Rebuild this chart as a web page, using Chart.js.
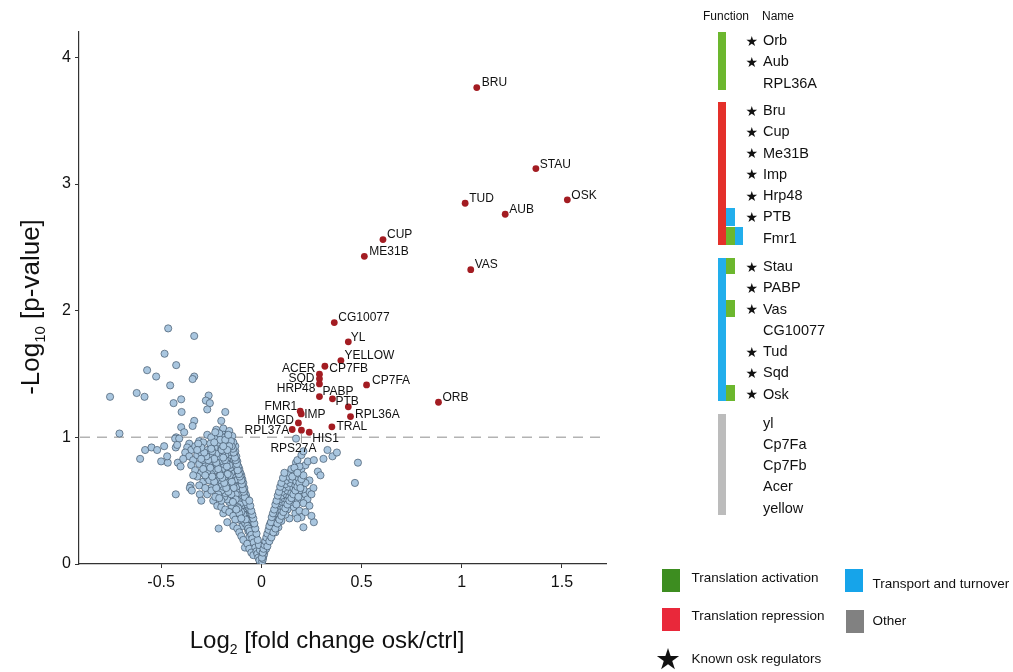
<!DOCTYPE html>
<html><head><meta charset="utf-8">
<script src="https://cdn.jsdelivr.net/npm/chart.js@4.4.1/dist/chart.umd.min.js"></script>
<style>
html,body{margin:0;padding:0;background:#fff;}
#wrap{position:relative;width:1013px;height:672px;overflow:hidden;font-family:"Liberation Sans",Arial,Helvetica,sans-serif;}
canvas{position:absolute;left:0;top:0;}
.t{position:absolute;white-space:nowrap;color:#111;line-height:1;transform:translateY(-50%);}
.star{font-family:"DejaVu Sans",sans-serif;}
.r{position:absolute;}
</style></head><body><div id="wrap"><canvas id="c" width="1013" height="672"></canvas></div>
<script>
// ---------- data ----------
const xTicks = [-0.5, 0, 0.5, 1, 1.5];
const yTicks = [0, 1, 2, 3, 4];
const threshold = 1;
const hitNames = ['BRU','STAU','OSK','TUD','AUB','CUP','ME31B','VAS','CG10077','YL','YELLOW','CP7FB','ACER','SQD','HRP48','CP7FA','PABP','PTB','','ORB','RPL36A','FMR1','IMP','HMGD','RPL37A','RPS27A','HIS1','TRAL'];
const hitX = [1.075,1.37,1.527,1.017,1.217,0.607,0.514,1.045,0.364,0.434,0.397,0.317,0.29,0.29,0.29,0.525,0.29,0.355,0.434,0.884,0.445,0.194,0.199,0.185,0.154,0.2,0.239,0.352];
const hitY = [3.761,3.122,2.875,2.848,2.761,2.561,2.429,2.324,1.906,1.754,1.606,1.561,1.498,1.462,1.422,1.414,1.322,1.304,1.241,1.277,1.164,1.206,1.185,1.114,1.062,1.056,1.04,1.083];
const otherPoints = [
[-0.465,1.86],[-0.335,1.80],[-0.483,1.66],[-0.425,1.57],[-0.57,1.53],[-0.525,1.48],[-0.335,1.48],[-0.343,1.46],[-0.455,1.41],[-0.755,1.32],[-0.622,1.35],[-0.583,1.32],[-0.40,1.30],[-0.438,1.27],[-0.263,1.33],[-0.277,1.29],[-0.257,1.27],[-0.27,1.22],[-0.398,1.20],[-0.18,1.20],[-0.335,1.13],[-0.343,1.09],[-0.2,1.13],[-0.40,1.08],[-0.708,1.03],[-0.385,1.04],[-0.425,1.00],[-0.43,0.99],[-0.41,0.99],[-0.27,1.02],[-0.225,1.06],[-0.19,1.07],[-0.16,1.05],[-0.19,1.02],[-0.205,1.01],[-0.58,0.90],[-0.548,0.92],[-0.52,0.90],[-0.485,0.93],[-0.605,0.83],[-0.50,0.81],[-0.467,0.80],[-0.47,0.85],[-0.427,0.92],[-0.42,0.94],[-0.417,0.80],[-0.403,0.77],[-0.427,0.55],[-0.353,0.62],[-0.357,0.60],[-0.347,0.58],[-0.307,0.55],[-0.213,0.28],[-0.19,0.40],[-0.082,0.13],
[-0.36,0.95],[-0.37,0.92],[-0.35,0.90],[-0.33,0.93],[-0.38,0.88],[-0.31,0.97],[-0.29,0.96],[-0.36,0.85],[-0.34,0.82],[-0.32,0.86],[-0.30,0.88],[-0.39,0.83],[-0.35,0.78],[-0.33,0.74],[-0.31,0.79],[-0.29,0.82],[-0.27,0.90],[-0.25,0.93],[-0.26,0.87],[-0.28,0.77],[-0.30,0.72],[-0.32,0.69],[-0.34,0.70],[-0.29,0.65],[-0.31,0.62],[-0.27,0.68],[-0.26,0.74],[-0.24,0.80],[-0.23,0.86],[-0.22,0.92],[-0.21,0.97],[-0.23,0.99],[-0.25,1.00],[-0.17,1.01],[-0.15,0.98],[-0.14,0.95],
[-0.005,0.02],[-0.01,0.04],[-0.003,0.01],[0.002,0.01],[-0.008,0.05],[-0.012,0.06],[-0.015,0.07],[-0.006,0.08],
[-0.012,0.10],[-0.018,0.11],[-0.022,0.12],[-0.016,0.13],[-0.028,0.14],[-0.01,0.09],
[-0.02,0.15],[-0.03,0.16],[-0.025,0.17],[-0.035,0.18],[-0.018,0.17],[-0.04,0.19],
[-0.025,0.20],[-0.032,0.21],[-0.045,0.22],[-0.038,0.23],[-0.05,0.24],[-0.028,0.22],[-0.06,0.21],
[-0.035,0.25],[-0.042,0.26],[-0.055,0.27],[-0.048,0.28],[-0.065,0.26],[-0.07,0.29],[-0.032,0.27],
[-0.04,0.30],[-0.05,0.31],[-0.062,0.32],[-0.075,0.31],[-0.045,0.33],[-0.085,0.33],[-0.058,0.34],[-0.095,0.30],
[-0.05,0.35],[-0.06,0.36],[-0.072,0.37],[-0.085,0.36],[-0.1,0.38],[-0.052,0.38],[-0.068,0.39],[-0.11,0.35],
[-0.055,0.40],[-0.065,0.41],[-0.078,0.42],[-0.09,0.41],[-0.105,0.43],[-0.12,0.42],[-0.06,0.43],[-0.135,0.44],[-0.085,0.44],
[-0.065,0.45],[-0.075,0.46],[-0.09,0.47],[-0.1,0.46],[-0.115,0.48],[-0.13,0.47],[-0.148,0.46],[-0.07,0.48],[-0.16,0.49],[-0.095,0.49],
[-0.07,0.50],[-0.08,0.51],[-0.095,0.52],[-0.11,0.51],[-0.125,0.53],[-0.14,0.52],[-0.155,0.54],[-0.17,0.51],[-0.075,0.53],[-0.185,0.53],[-0.105,0.54],
[-0.078,0.55],[-0.09,0.56],[-0.1,0.57],[-0.115,0.56],[-0.13,0.58],[-0.145,0.57],[-0.16,0.59],[-0.18,0.56],[-0.2,0.58],[-0.085,0.58],[-0.215,0.55],[-0.12,0.59],
[-0.085,0.60],[-0.095,0.61],[-0.11,0.62],[-0.125,0.61],[-0.14,0.63],[-0.155,0.62],[-0.17,0.64],[-0.19,0.61],[-0.21,0.63],[-0.23,0.62],[-0.09,0.64],[-0.25,0.60],[-0.105,0.65],[-0.135,0.66],
[-0.095,0.67],[-0.11,0.68],[-0.125,0.67],[-0.15,0.69],[-0.165,0.67],[-0.18,0.69],[-0.2,0.66],[-0.22,0.68],[-0.24,0.67],[-0.26,0.66],[-0.1,0.70],[-0.14,0.71],
[-0.105,0.72],[-0.12,0.73],[-0.135,0.74],[-0.15,0.72],[-0.165,0.74],[-0.18,0.73],[-0.195,0.75],[-0.21,0.72],[-0.23,0.74],[-0.25,0.71],[-0.27,0.73],[-0.11,0.75],[-0.29,0.75],[-0.155,0.76],
[-0.115,0.77],[-0.13,0.78],[-0.145,0.79],[-0.16,0.78],[-0.175,0.80],[-0.19,0.79],[-0.205,0.81],[-0.22,0.78],[-0.24,0.80],[-0.26,0.78],[-0.12,0.81],[-0.14,0.83],[-0.17,0.84],
[-0.125,0.85],[-0.135,0.87],[-0.15,0.86],[-0.165,0.88],[-0.18,0.86],[-0.195,0.88],[-0.21,0.85],[-0.225,0.87],[-0.245,0.85],[-0.13,0.89],[-0.15,0.91],[-0.175,0.92],[-0.2,0.91],
[-0.13,0.93],[-0.14,0.96],[-0.16,0.94],[-0.185,0.96],[-0.2,0.94],[-0.215,0.96],[-0.17,0.99],[-0.195,1.0],[-0.145,1.01],[-0.21,1.03],[-0.23,1.04],
[-0.3,0.5],[-0.27,0.55],[-0.24,0.5],[-0.22,0.46],[-0.2,0.45],[-0.18,0.43],[-0.16,0.41],[-0.14,0.38],[-0.13,0.35],[-0.25,0.58],[-0.23,0.53],[-0.28,0.6],[-0.14,0.30],[-0.12,0.28],[-0.11,0.25],[-0.1,0.22],[-0.17,0.33],[-0.09,0.19],[-0.07,0.16],[-0.06,0.12],[-0.05,0.09],[-0.04,0.07],
[-0.06,0.44],[-0.07,0.47],[-0.08,0.49],[-0.083,0.53],[-0.088,0.57],[-0.092,0.59],[-0.097,0.63],[-0.1,0.66],[-0.108,0.69],[-0.112,0.71],[-0.118,0.74],[-0.122,0.79],[-0.128,0.82],[-0.132,0.84],[-0.138,0.88],[-0.142,0.91],[-0.148,0.93],[-0.152,0.97],
[-0.118,0.50],[-0.128,0.55],[-0.138,0.6],[-0.148,0.65],[-0.158,0.7],[-0.168,0.71],[-0.172,0.77],[-0.182,0.82],[-0.19,0.84],[-0.198,0.9],[-0.205,0.98],
[-0.108,0.47],[-0.118,0.45],[-0.128,0.51],[-0.142,0.49],[-0.15,0.55],[-0.165,0.57],[-0.175,0.6],[-0.185,0.64],[-0.195,0.68],[-0.205,0.7],[-0.215,0.75],[-0.225,0.8],[-0.235,0.83],[-0.245,0.89],[-0.255,0.95],
[-0.2,0.5],[-0.21,0.52],[-0.225,0.6],[-0.235,0.65],[-0.245,0.69],[-0.255,0.76],[-0.265,0.82],[-0.275,0.85],[-0.285,0.88],[-0.3,0.92],[-0.315,0.95],[-0.32,0.9],[-0.3,0.83],[-0.28,0.7],
[-0.09,0.39],[-0.1,0.41],[-0.11,0.4],[-0.115,0.44],[-0.125,0.43],[-0.09,0.34],[-0.08,0.32],[-0.078,0.35],[-0.1,0.36],[-0.07,0.3],[-0.065,0.28],[-0.058,0.26],[-0.05,0.23],[-0.045,0.2],[-0.038,0.17],[-0.03,0.13],[-0.024,0.1],[-0.02,0.08],[-0.015,0.05],[-0.01,0.03],[-0.007,0.11],[-0.012,0.15],[-0.018,0.19],[-0.024,0.24],[-0.03,0.28],[-0.035,0.32],[-0.04,0.36],[-0.045,0.39],[-0.05,0.42],[-0.055,0.46],[-0.06,0.5],
[-0.16,0.93],[-0.18,0.98],[-0.165,1.02],[-0.235,0.96],[-0.25,0.91],[-0.17,0.9],[-0.19,0.93],
[0.004,0.02],[0.008,0.04],[0.01,0.06],[0.006,0.07],[0.014,0.08],[0.012,0.1],[0.018,0.11],[0.015,0.13],[0.024,0.12],[0.02,0.15],[0.028,0.16],[0.025,0.18],[0.035,0.19],[0.03,0.21],[0.04,0.22],[0.035,0.24],[0.046,0.25],[0.042,0.27],[0.055,0.28],[0.05,0.3],[0.06,0.31],[0.045,0.32],[0.068,0.33],[0.058,0.35],[0.075,0.36],[0.065,0.38],[0.085,0.37],[0.07,0.4],[0.09,0.41],[0.08,0.43],[0.1,0.42],[0.075,0.45],[0.095,0.46],[0.11,0.45],[0.085,0.48],[0.105,0.49],[0.12,0.48],[0.09,0.51],[0.115,0.52],[0.13,0.5],[0.1,0.54],[0.125,0.55],[0.14,0.53],[0.105,0.57],[0.13,0.58],[0.15,0.56],[0.11,0.6],[0.135,0.61],[0.16,0.6],[0.12,0.63],[0.145,0.64],[0.17,0.62],[0.125,0.66],[0.15,0.67],[0.175,0.65],[0.135,0.69],[0.16,0.7],[0.185,0.68],[0.14,0.72],[0.165,0.73],[0.19,0.71],[0.15,0.75],[0.173,0.80],[0.173,0.99],
[0.21,0.29],[0.262,0.33],[0.14,0.36],[0.17,0.4],[0.19,0.42],[0.2,0.37],[0.16,0.45],[0.18,0.5],[0.2,0.53],[0.22,0.55],[0.24,0.57],[0.26,0.6],[0.21,0.59],[0.23,0.51],[0.25,0.55],[0.282,0.73],[0.295,0.70],[0.2,0.75],[0.22,0.78],[0.232,0.81],[0.262,0.82],[0.31,0.83],[0.355,0.85],[0.33,0.90],[0.377,0.88],[0.482,0.80],[0.467,0.64],[0.19,0.77],[0.18,0.82],[0.2,0.86],[0.21,0.89],[0.24,0.66],[0.22,0.64],[0.19,0.58],[0.17,0.55],[0.15,0.49],[0.13,0.43],[0.12,0.39],[0.1,0.34],[0.085,0.29],[0.07,0.25],
[0.003,0.05],[0.007,0.09],[0.011,0.12],[0.016,0.15],[0.02,0.18],[0.025,0.21],[0.03,0.24],[0.036,0.27],[0.04,0.3],[0.048,0.33],[0.052,0.37],[0.058,0.4],[0.064,0.43],[0.07,0.47],[0.076,0.5],[0.082,0.54],[0.088,0.57],[0.094,0.61],[0.1,0.64],[0.108,0.68],[0.115,0.72],
[0.03,0.14],[0.04,0.18],[0.05,0.21],[0.06,0.25],[0.07,0.28],[0.08,0.32],[0.09,0.35],[0.1,0.38],[0.11,0.41],[0.12,0.44],[0.13,0.47],[0.14,0.5],[0.15,0.52],[0.16,0.55],[0.17,0.58],[0.18,0.61],[0.19,0.64],[0.2,0.67],[0.21,0.7],
[0.155,0.69],[0.165,0.76],[0.18,0.72],[0.195,0.6],[0.175,0.47],[0.185,0.53],[0.21,0.48],[0.24,0.46],[0.22,0.41],[0.25,0.38],[0.18,0.36]
];
// right panel
const panelNames = [['Orb','Aub','RPL36A'],['Bru','Cup','Me31B','Imp','Hrp48','PTB','Fmr1'],['Stau','PABP','Vas','CG10077','Tud','Sqd','Osk'],['yl','Cp7Fa','Cp7Fb','Acer','yellow']];
const panelKnown = [[1,1,0],[1,1,1,1,1,1,0],[1,1,1,0,1,1,1],[0,0,0,0,0]];
const panelMainFunction = ['act','rep','trans','other'];
const panelExtraFunctions = {PTB:['trans'], Fmr1:['act','trans'], Stau:['act'], Vas:['act'], Osk:['act']};
const legendItems = [['act','Translation activation'],['trans','Transport and turnover'],['rep','Translation repression'],['other','Other']];

// ---------- styles ----------
const FONT = '"Liberation Sans", Arial, Helvetica, sans-serif';
const panelColors = {act:'#6cb72e', rep:'#e4302a', trans:'#22aeec', other:'#bcbcbc'};
const legendColors = {act:'#3d8d20', rep:'#e9283a', trans:'#16a4ea', other:'#818181'};
const labelPlace = {
 BRU:[5,-5,'left'], STAU:[4,-4,'left'], OSK:[4,-4,'left'], TUD:[4,-4.5,'left'], AUB:[4,-4.5,'left'],
 CUP:[4,-5,'left'], ME31B:[5,-4.5,'left'], VAS:[4,-5,'left'], CG10077:[4,-5,'left'], YL:[2.5,-4.5,'left'],
 YELLOW:[3.5,-5,'left'], CP7FB:[4.5,2,'left'], ACER:[-4,-5.5,'right'], SQD:[-5,0,'right'], HRP48:[-4,4.5,'right'],
 CP7FA:[5.5,-4.5,'left'], PABP:[3,-4.5,'left'], PTB:[3,2.5,'left'], ORB:[4,-4.5,'left'], RPL36A:[4.5,-2,'left'],
 FMR1:[-3,-5,'right'], IMP:[3,1,'left'], HMGD:[-4.5,-2.5,'right'], RPL37A:[-3,1.5,'right'],
 RPS27A:[-8,18.5,'center'], HIS1:[3,6,'left'], TRAL:[4.5,0,'left']
};

const overlayPlugin = {
  id:'overlay',
  beforeDatasetsDraw(chart){
    const {ctx, chartArea:a, scales:{y}} = chart;
    const py = y.getPixelForValue(threshold);
    ctx.save();
    ctx.strokeStyle = '#b3b3b3'; ctx.lineWidth = 1.5; ctx.setLineDash([10,7]);
    ctx.beginPath(); ctx.moveTo(a.left+1, py); ctx.lineTo(a.right, py); ctx.stroke();
    ctx.restore();
  },
  afterDatasetsDraw(chart){
    const {ctx} = chart;
    const meta = chart.getDatasetMeta(0);
    ctx.save();
    ctx.font = '12px ' + FONT; ctx.fillStyle = '#111'; ctx.textBaseline = 'middle';
    hitNames.forEach((n,i)=>{
      if(!n) return;
      const p = meta.data[i]; const pl = labelPlace[n] || [4,-4,'left'];
      if(n === 'RPS27A'){
        ctx.strokeStyle = '#999'; ctx.lineWidth = 1; ctx.setLineDash([]);
        ctx.beginPath(); ctx.moveTo(p.x, p.y+3); ctx.lineTo(p.x, p.y+13); ctx.stroke();
      }
      ctx.textAlign = pl[2];
      ctx.fillText(n, p.x + pl[0], p.y + pl[1]);
    });
    ctx.restore();
  },
  afterDraw(chart){
    const {ctx} = chart;
    ctx.save(); ctx.fillStyle = '#111'; ctx.textBaseline = 'alphabetic';
    const big = '24px ' + FONT, small = '14px ' + FONT;
    function parts(p){ let w=0; p.forEach(s=>{ctx.font=s[1]; s.w=ctx.measureText(s[0]).width; w+=s.w;}); return w; }
    function drawParts(p, x, y){ p.forEach(s=>{ctx.font=s[1]; ctx.fillText(s[0], x, y+s[2]); x+=s.w;}); }
    const xt = [['Log',big,0],['2',small,6],[' [fold change osk/ctrl]',big,0]];
    const wx = parts(xt); drawParts(xt, 327 - wx/2, 648);
    const bigY = '26px ' + FONT, smallY = '15px ' + FONT;
    const yt = [['-Log',bigY,0],['10',smallY,6],[' [p-value]',bigY,0]];
    const wy = parts(yt);
    ctx.translate(39, 307); ctx.rotate(-Math.PI/2);
    drawParts(yt, -wy/2, 0);
    ctx.restore();
  }
};

new Chart(document.getElementById('c'), {
  type:'scatter',
  data:{datasets:[
    {data: hitX.map((x,i)=>({x, y:hitY[i]})), backgroundColor:'#a31c22', borderColor:'#a31c22', borderWidth:0, pointRadius:3.4, order:0},
    {data: otherPoints.map(p=>({x:p[0], y:p[1]})), backgroundColor:'#a9c6df', borderColor:'#44576b', borderWidth:0.7, pointRadius:3.6, order:1}
  ]},
  options:{
    responsive:false, animation:false, devicePixelRatio:1,
    layout:{padding:{left:0, right:407, top:32, bottom:0}},
    plugins:{legend:{display:false}, tooltip:{enabled:false}},
    scales:{
      x:{type:'linear', min:-0.91, max:1.72,
        afterFit(s){ s.height = 108; },
        afterBuildTicks(s){ s.ticks = xTicks.map(v=>({value:v})); },
        ticks:{font:{size:16, family:FONT}, color:'#111', padding:5, maxRotation:0, callback:v=>String(v)},
        grid:{display:true, drawOnChartArea:false, drawTicks:true, tickLength:4, color:'#333'},
        border:{display:true, color:'#333', width:1.2}},
      y:{type:'linear', min:0, max:4.2,
        afterFit(s){ s.width = 79; },
        afterBuildTicks(s){ s.ticks = yTicks.map(v=>({value:v})); },
        ticks:{font:{size:16, family:FONT}, color:'#111', padding:4, callback:v=>String(v)},
        grid:{display:true, drawOnChartArea:false, drawTicks:true, tickLength:4, color:'#333'},
        border:{display:true, color:'#333', width:1.2}}
    }
  },
  plugins:[overlayPlugin]
});

// ---------- right panel (HTML) ----------
const wrap = document.getElementById('wrap');
function el(cls, style, text){ const d=document.createElement('div'); d.className=cls; Object.assign(d.style, style); if(text!==undefined) d.textContent=text; wrap.appendChild(d); return d; }
el('t', {left:'703px', top:'16px', fontSize:'12px'}, 'Function');
el('t', {left:'762px', top:'16px', fontSize:'12px'}, 'Name');
const groupStart = [40, 110, 266, 422.7], rowStep = 21.25, barX = 717.5, cellW = 8.5;
panelNames.forEach((names,g)=>{
  const y0 = groupStart[g], y1 = y0 + rowStep*(names.length-1);
  const top = y0 - 8.3, bot = y1 + 7.6;
  el('r', {left:barX+'px', top:top+'px', width:cellW+'px', height:(bot-top)+'px', background:panelColors[panelMainFunction[g]]});
  names.forEach((n,i)=>{
    const ry = y0 + rowStep*i;
    if(panelKnown[g][i]) el('t star', {left:'745.5px', top:(ry+0.5)+'px', fontSize:'14px'}, '\u2605');
    el('t', {left:'763px', top:ry+'px', fontSize:'14.5px'}, n);
    (panelExtraFunctions[n]||[]).forEach((f,k)=>{
      let ct = ry - 8.5, cb = ry + 8.5;
      if(n==='PTB'){ cb = ry + 10; }
      if(n==='Fmr1'){ ct = ry - 11; }
      ct = Math.max(ct, top); cb = Math.min(cb, bot);
      el('r', {left:(barX+cellW*(k+1))+'px', top:ct+'px', width:cellW+'px', height:(cb-ct)+'px', background:panelColors[f]});
    });
  });
});
// bottom legend
const legPos = [[661.5,568.5,691.5,577.5],[844.5,569,872.5,583.5],[661.5,607.5,691.5,616],[845.5,610,872.5,621]];
legendItems.forEach((it,i)=>{
  const p = legPos[i];
  el('r', {left:p[0]+'px', top:p[1]+'px', width:'18.5px', height:'23px', background:legendColors[it[0]]});
  el('t', {left:p[2]+'px', top:p[3]+'px', fontSize:'13.5px'}, it[1]);
});
el('t star', {left:'655px', top:'659px', fontSize:'29px'}, '\u2605');
el('t', {left:'691.5px', top:'658.5px', fontSize:'13.5px'}, 'Known osk regulators');
</script></body></html>
